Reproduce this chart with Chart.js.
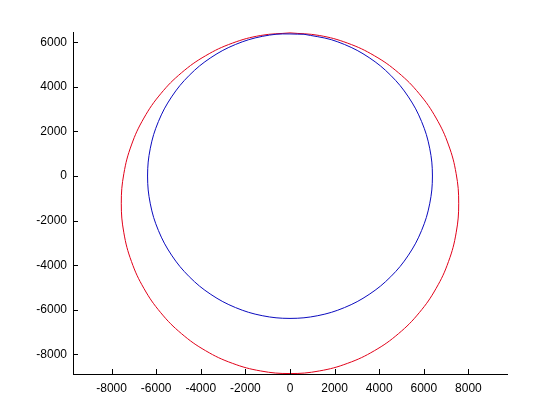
<!DOCTYPE html>
<html>
<head>
<meta charset="utf-8">
<script src="https://cdn.jsdelivr.net/npm/chart.js@4.4.1/dist/chart.umd.min.js"></script>
<style>
  html, body { margin: 0; padding: 0; background: #fff; }
  canvas { display: block; }
</style>
</head>
<body>
<canvas id="orbita" width="560" height="420"></canvas>
<script>
// axis ticks
var xTicks = [-8000, -6000, -4000, -2000, 0, 2000, 4000, 6000, 8000];
var yTicks = [-8000, -6000, -4000, -2000, 0, 2000, 4000, 6000];
var xLimits = [-9730, 9730];
var yLimits = [-8880, 6460];

// blue curve (earth), starting at the top
var tierraX = [626, -626, -1855, -3012, -4054, -4940, -5635, -6115, -6359,
  -6359, -6115, -5635, -4940, -4054, -3012, -1855, -626,
  626, 1855, 3012, 4054, 4940, 5635, 6115, 6359,
  6359, 6115, 5635, 4940, 4054, 3012, 1855, 626];
var tierraY = [6359, 6359, 6115, 5635, 4940, 4054, 3012, 1855, 626,
  -626, -1855, -3012, -4054, -4940, -5635, -6115, -6359,
  -6359, -6115, -5635, -4940, -4054, -3012, -1855, -626,
  626, 1855, 3012, 4054, 4940, 5635, 6115, 6359];

// red curve (orbit), starting at the top
var orbitaX = [0, -1313, -2587, -3783, -4863, -5795, -6551, -7109, -7450, -7565,
  -7450, -7109, -6551, -5795, -4863, -3783, -2587, -1313, 0,
  1313, 2587, 3783, 4863, 5795, 6551, 7109, 7450, 7565,
  7450, 7109, 6551, 5795, 4863, 3783, 2587, 1313, 0];
var orbitaY = [6420, 6304, 5959, 5396, 4632, 3691, 2600, 1393, 106, -1220,
  -2546, -3833, -5040, -6131, -7072, -7836, -8399, -8744, -8860,
  -8744, -8399, -7836, -7072, -6131, -5040, -3833, -2546, -1220,
  106, 1393, 2600, 3691, 4632, 5396, 5959, 6304, 6420];

function puntos(xs, ys) {
  var p = [];
  for (var i = 0; i < xs.length; i++) p.push({x: xs[i], y: ys[i]});
  return p;
}

// MATLAB style ticks pointing into the plot
var ticksAdentro = {
  id: 'ticksAdentro',
  afterDraw: function(chart) {
    var ctx = chart.ctx;
    var xs = chart.scales.x, ys = chart.scales.y;
    var area = chart.chartArea;
    ctx.save();
    ctx.strokeStyle = '#000';
    ctx.lineWidth = 1;
    ctx.beginPath();
    xTicks.forEach(function(v) {
      var px = Math.round(xs.getPixelForValue(v)) + 0.5;
      ctx.moveTo(px, area.bottom);
      ctx.lineTo(px, area.bottom - 5);
    });
    yTicks.forEach(function(v) {
      var py = Math.round(ys.getPixelForValue(v)) + 0.5;
      ctx.moveTo(area.left, py);
      ctx.lineTo(area.left + 5, py);
    });
    ctx.stroke();
    ctx.restore();
  }
};

var fuente = {family: 'Liberation Sans, Arial, sans-serif', size: 12};

new Chart(document.getElementById('orbita').getContext('2d'), {
  type: 'scatter',
  data: {
    datasets: [
      {
        label: 'tierra',
        data: puntos(tierraX, tierraY),
        showLine: true,
        borderColor: 'rgb(10,10,190)',
        borderWidth: 1,
        pointRadius: 0,
        fill: false,
        tension: 0.3
      },
      {
        label: 'orbita',
        data: puntos(orbitaX, orbitaY),
        showLine: true,
        borderColor: 'rgb(225,0,25)',
        borderWidth: 1,
        pointRadius: 0,
        fill: false,
        tension: 0.4
      }
    ]
  },
  options: {
    responsive: false,
    animation: false,
    layout: {padding: {left: 0, top: 32, right: 53, bottom: 0}},
    plugins: {legend: {display: false}, tooltip: {enabled: false}},
    scales: {
      x: {
        type: 'linear',
        min: xLimits[0],
        max: xLimits[1],
        afterBuildTicks: function(s) { s.ticks = xTicks.map(function(v) { return {value: v}; }); },
        afterFit: function(s) { s.height = 46; },
        grid: {display: true, drawOnChartArea: false, drawTicks: false},
        border: {display: true, color: '#000', width: 1},
        ticks: {color: '#000', font: fuente, padding: 7, maxRotation: 0,
          callback: function(v) { return String(v); }}
      },
      y: {
        type: 'linear',
        min: yLimits[0],
        max: yLimits[1],
        afterBuildTicks: function(s) { s.ticks = yTicks.map(function(v) { return {value: v}; }); },
        afterFit: function(s) { s.width = 73; },
        grid: {display: true, drawOnChartArea: false, drawTicks: false},
        border: {display: true, color: '#000', width: 1},
        ticks: {color: '#000', font: fuente, padding: 6,
          callback: function(v) { return String(v); }}
      }
    }
  },
  plugins: [ticksAdentro]
});
</script>
</body>
</html>
